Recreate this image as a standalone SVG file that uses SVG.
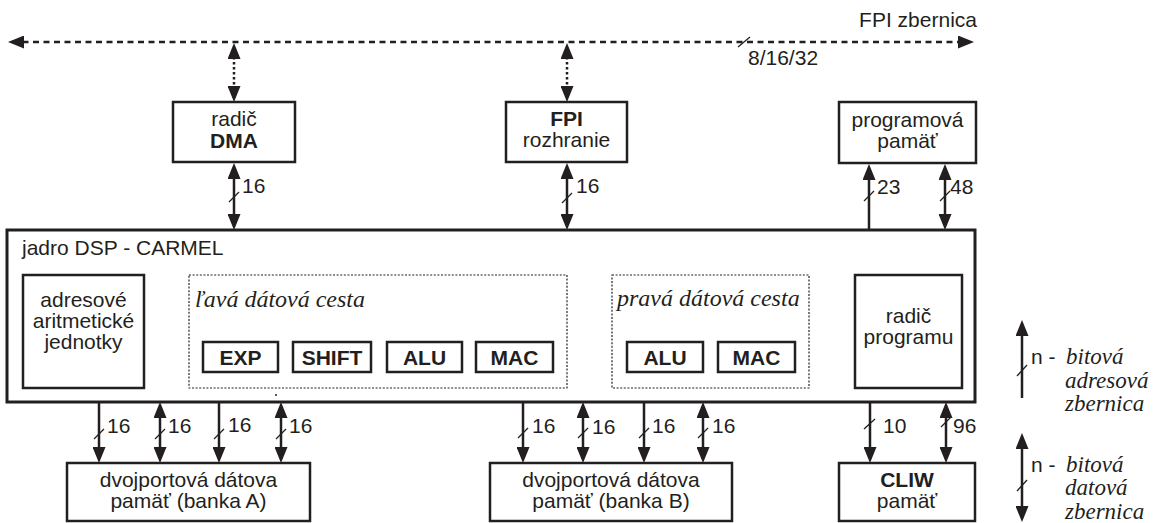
<svg xmlns="http://www.w3.org/2000/svg" width="1154" height="523" viewBox="0 0 1154 523">
<style>
.bx{fill:#fff;stroke:#231f20;stroke-width:2.5}
.core{fill:#fff;stroke:#231f20;stroke-width:3}
.dp{fill:none;stroke:#231f20;stroke-width:1.2;stroke-dasharray:2 1.6}
.t{font-family:"Liberation Sans",Arial,sans-serif;font-size:21px;fill:#231f20}
.c{text-anchor:middle}
.b{font-weight:bold}
.i{font-family:"Liberation Serif","Times New Roman",serif;font-style:italic;font-size:24px;fill:#231f20}
.li{font-size:23px}
.w{fill:none;stroke:#231f20;stroke-width:2.5}
.dot{fill:none;stroke:#231f20;stroke-width:2.5;stroke-dasharray:2.5 2.5}
.dash{fill:none;stroke:#231f20;stroke-width:2.5;stroke-dasharray:6 4.5}
.sl{stroke:#231f20;stroke-width:1.3}
</style>
<defs>
<marker id="a" markerUnits="userSpaceOnUse" markerWidth="16" markerHeight="13" refX="12" refY="6.5" orient="auto-start-reverse">
<path d="M0,0 L16,6.5 L0,13 z" fill="#231f20"/>
</marker>
<marker id="ad" markerUnits="userSpaceOnUse" markerWidth="16" markerHeight="13" refX="12" refY="6.5" orient="auto-start-reverse">
<path d="M0,0 L16,6.5 L0,13 z" fill="#231f20"/>
</marker>
</defs>

<g id="connectors">
<!-- FPI bus -->
<line class="dash" x1="12" y1="42" x2="970" y2="42" marker-start="url(#a)" marker-end="url(#a)"/>
<line class="sl" x1="738" y1="47" x2="750" y2="37"/>
<!-- dotted to DMA / FPI -->
<line class="dot" x1="234" y1="47" x2="234" y2="98" marker-start="url(#ad)" marker-end="url(#ad)"/>
<line class="dot" x1="567" y1="47" x2="567" y2="98" marker-start="url(#ad)" marker-end="url(#ad)"/>
<!-- top solid -->
<line class="w" x1="234" y1="167" x2="234" y2="226" marker-start="url(#a)" marker-end="url(#a)"/>
<line class="sl" x1="229" y1="202" x2="239" y2="192"/>
<line class="w" x1="567" y1="167" x2="567" y2="226" marker-start="url(#a)" marker-end="url(#a)"/>
<line class="sl" x1="562" y1="203" x2="572" y2="193"/>
<line class="w" x1="869" y1="230" x2="869" y2="168" marker-end="url(#a)"/>
<line class="sl" x1="864" y1="201" x2="874" y2="191"/>
<line class="w" x1="945" y1="168" x2="945" y2="226" marker-start="url(#a)" marker-end="url(#a)"/>
<line class="sl" x1="940" y1="201" x2="950" y2="191"/>
<!-- bottom A -->
<line class="w" x1="99" y1="402" x2="99" y2="459" marker-end="url(#a)"/>
<line class="sl" x1="94" y1="439" x2="104" y2="429"/>
<line class="w" x1="160" y1="406" x2="160" y2="459" marker-start="url(#a)" marker-end="url(#a)"/>
<line class="sl" x1="155" y1="439" x2="165" y2="429"/>
<line class="w" x1="219" y1="402" x2="219" y2="459" marker-end="url(#a)"/>
<line class="sl" x1="214" y1="439" x2="224" y2="429"/>
<line class="w" x1="281" y1="406" x2="281" y2="459" marker-start="url(#a)" marker-end="url(#a)"/>
<line class="sl" x1="276" y1="439" x2="286" y2="429"/>
<!-- bottom B -->
<line class="w" x1="523" y1="402" x2="523" y2="459" marker-end="url(#a)"/>
<line class="sl" x1="518" y1="438" x2="528" y2="428"/>
<line class="w" x1="583" y1="406" x2="583" y2="459" marker-start="url(#a)" marker-end="url(#a)"/>
<line class="sl" x1="578" y1="438" x2="588" y2="428"/>
<line class="w" x1="644" y1="402" x2="644" y2="459" marker-end="url(#a)"/>
<line class="sl" x1="639" y1="438" x2="649" y2="428"/>
<line class="w" x1="703" y1="406" x2="703" y2="459" marker-start="url(#a)" marker-end="url(#a)"/>
<line class="sl" x1="698" y1="438" x2="708" y2="428"/>
<!-- CLIW -->
<line class="w" x1="870" y1="402" x2="870" y2="459" marker-end="url(#a)"/>
<line class="sl" x1="864" y1="429" x2="875" y2="419"/>
<line class="w" x1="946" y1="406" x2="946" y2="459" marker-start="url(#a)" marker-end="url(#a)"/>
<line class="sl" x1="941" y1="427" x2="951" y2="417"/>
<!-- labels -->
<g class="t">
<text x="748" y="65">8/16/32</text>
<text x="242" y="193">16</text>
<text x="576" y="193">16</text>
<text x="877" y="194">23</text>
<text x="950" y="194">48</text>
<text x="107" y="433">16</text>
<text x="168" y="433">16</text>
<text x="228" y="432">16</text>
<text x="289" y="433">16</text>
<text x="532" y="433">16</text>
<text x="592" y="434">16</text>
<text x="652" y="433">16</text>
<text x="712" y="433">16</text>
<text x="883" y="433">10</text>
<text x="953" y="433">96</text>
</g>
</g>

<text class="t" x="977" y="27" text-anchor="end">FPI zbernica</text>

<g id="dma">
<rect class="bx" x="173" y="102" width="122" height="60"/>
<text class="t c" x="234" y="126">radič</text>
<text class="t c b" x="234" y="148">DMA</text>
</g>
<g id="fpi">
<rect class="bx" x="506" y="102" width="121" height="60"/>
<text class="t c b" x="566.5" y="126">FPI</text>
<text class="t c" x="566.5" y="147">rozhranie</text>
</g>
<g id="progmem">
<rect class="bx" x="839" y="102" width="137" height="61"/>
<text class="t c" x="907.5" y="127">programová</text>
<text class="t c" x="907.5" y="148">pamäť</text>
</g>

<g id="core">
<rect class="core" x="7" y="230" width="968" height="172"/>
<text class="t" x="22" y="255">jadro DSP - CARMEL</text>
<circle cx="276" cy="395" r="1" fill="#231f20"/>
</g>
<g id="agu">
<rect class="bx" x="23" y="275" width="121" height="113"/>
<text class="t c" x="83.5" y="307">adresové</text>
<text class="t c" x="83.5" y="328">aritmetické</text>
<text class="t c" x="83.5" y="349">jednotky</text>
</g>
<g id="left-dp">
<rect class="dp" x="189" y="275" width="378" height="113"/>
<text class="i" x="195" y="307">ľavá dátová cesta</text>
</g>
<g id="exp"><rect class="bx" x="203" y="342" width="75" height="30"/><text class="t c b" x="240.5" y="364.5">EXP</text></g>
<g id="shift"><rect class="bx" x="293" y="342" width="78" height="30"/><text class="t c b" x="332" y="364.5">SHIFT</text></g>
<g id="alu-l"><rect class="bx" x="387" y="342" width="75" height="30"/><text class="t c b" x="424.5" y="364.5">ALU</text></g>
<g id="mac-l"><rect class="bx" x="476" y="342" width="77" height="30"/><text class="t c b" x="514.5" y="364.5">MAC</text></g>
<g id="right-dp">
<rect class="dp" x="612" y="275" width="197" height="113"/>
<text class="i" x="617" y="306">pravá dátová cesta</text>
</g>
<g id="alu-r"><rect class="bx" x="627" y="342" width="76" height="30"/><text class="t c b" x="665" y="364.5">ALU</text></g>
<g id="mac-r"><rect class="bx" x="718" y="342" width="77" height="30"/><text class="t c b" x="756.5" y="364.5">MAC</text></g>
<g id="pcu">
<rect class="bx" x="855" y="275" width="107" height="113"/>
<text class="t c" x="908.5" y="323">radič</text>
<text class="t c" x="908.5" y="344">programu</text>
</g>

<g id="mem-a">
<rect class="bx" x="67" y="463" width="243" height="58"/>
<text class="t c" x="188.5" y="487">dvojportová dátova</text>
<text class="t c" x="188.5" y="508">pamäť (banka A)</text>
</g>
<g id="mem-b">
<rect class="bx" x="490" y="463" width="242" height="58"/>
<text class="t c" x="611" y="487">dvojportová dátova</text>
<text class="t c" x="611" y="508">pamäť (banka B)</text>
</g>
<g id="cliw">
<rect class="bx" x="839" y="463" width="136" height="58"/>
<text class="t c b" x="907" y="487">CLIW</text>
<text class="t c" x="907" y="508">pamäť</text>
</g>

<g id="legend">
<line class="w" x1="1022" y1="398" x2="1022" y2="324" marker-end="url(#a)"/>
<line class="sl" x1="1017" y1="376" x2="1027" y2="365"/>
<text class="t" x="1031" y="364">n - </text>
<text class="i li" x="1066" y="364">bitová</text>
<text class="i li" x="1065" y="388">adresová</text>
<text class="i li" x="1065" y="411">zbernica</text>
<line class="w" x1="1022" y1="437" x2="1022" y2="518" marker-start="url(#a)" marker-end="url(#a)"/>
<line class="sl" x1="1017" y1="491" x2="1027" y2="480"/>
<text class="t" x="1031" y="472">n - </text>
<text class="i li" x="1066" y="472">bitová</text>
<text class="i li" x="1065" y="495">datová</text>
<text class="i li" x="1065" y="519">zbernica</text>
</g>
</svg>
